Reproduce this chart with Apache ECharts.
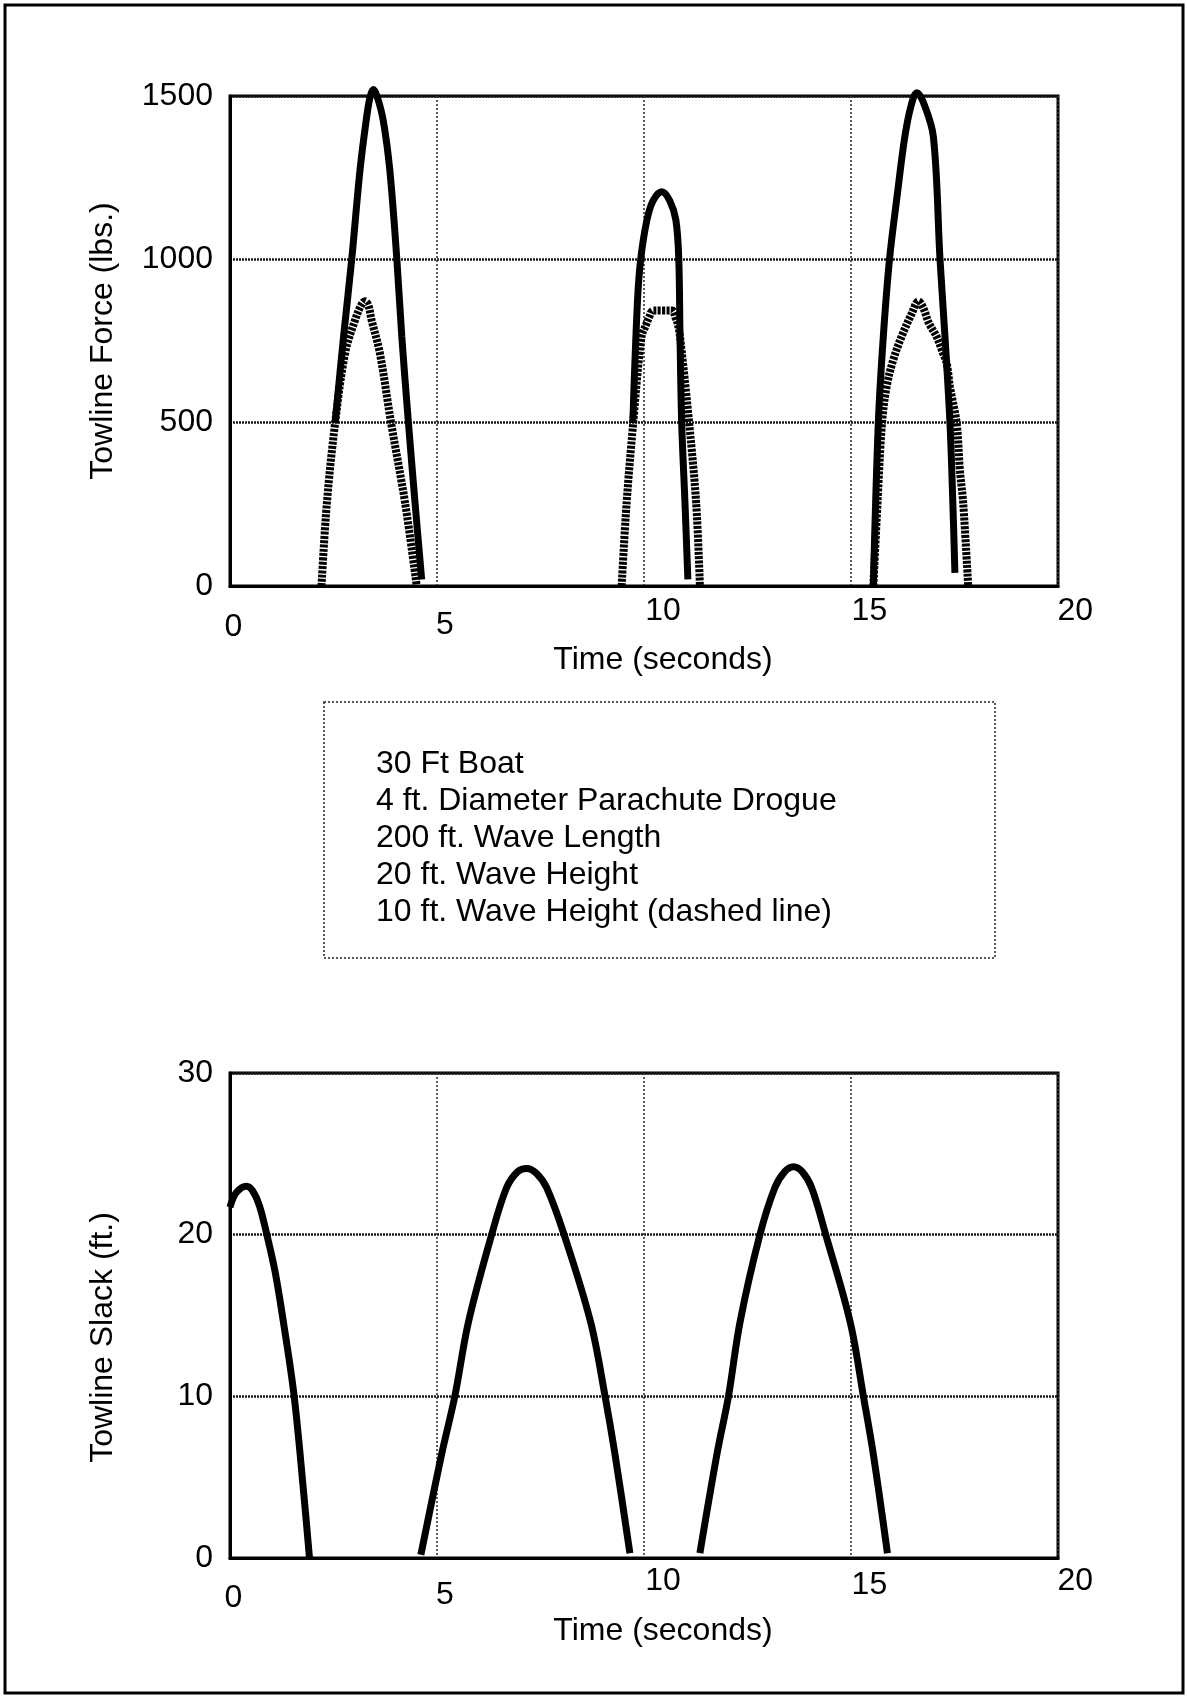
<!DOCTYPE html>
<html><head><meta charset="utf-8">
<script src="https://cdn.jsdelivr.net/npm/echarts@6/dist/echarts.min.js"></script>
<style>html,body{margin:0;padding:0;background:#fff}#c{width:1187px;height:1699px}</style>
</head><body><div id="c"></div>
<script>
// ---- data (time in seconds) ----
const xTicks = [0, 5, 10, 15, 20];
const forceTicks = [0, 500, 1000, 1500];
const slackTicks = [0, 10, 20, 30];

// 20 ft wave height (solid) - towline force, lbs
const force20Time = [2.54, 2.74, 2.94, 3.14, 3.29, 3.38, 3.46, 3.55, 3.70, 3.86, 4.03, 4.15, 4.31, 4.47, 4.63,
  7.0,
  9.73, 9.84, 9.92, 10.07, 10.22, 10.43, 10.62, 10.77, 10.84, 10.87, 10.91, 10.99, 11.06,
  13.0,
  15.54, 15.66, 15.78, 15.93, 16.12, 16.30, 16.45, 16.59, 16.75, 16.99, 17.15, 17.27, 17.39, 17.46, 17.51];
const force20 = [500, 760, 1000, 1273, 1426, 1495, 1520, 1500, 1426, 1273, 1000, 763, 500, 254, 20,
  null,
  500, 866, 1000, 1120, 1180, 1207, 1180, 1120, 1000, 763, 500, 254, 20,
  null,
  0, 500, 763, 1000, 1200, 1375, 1470, 1510, 1480, 1375, 1000, 763, 500, 254, 40];

// 10 ft wave height (dashed) - towline force, lbs
const force10Time = [2.21, 2.34, 2.54, 2.78, 3.02, 3.17, 3.26, 3.34, 3.42, 3.62, 3.89, 4.23, 4.51,
  7.0,
  9.46, 9.58, 9.74, 9.94, 10.05, 10.12, 10.22, 10.68, 10.76, 10.82, 10.87, 11.09, 11.26, 11.35,
  13.0,
  15.54, 15.64, 15.75, 15.86, 16.02, 16.22, 16.47, 16.63, 16.75, 16.88, 17.07, 17.20, 17.31, 17.39, 17.55, 17.63, 17.71, 17.83];
const force10 = [0, 254, 500, 713, 814, 860, 872, 860, 814, 713, 500, 254, 0,
  null,
  0, 254, 500, 763, 800, 822, 843, 843, 822, 800, 763, 500, 254, 0,
  null,
  0, 254, 500, 610, 692, 763, 835, 872, 850, 805, 763, 720, 682, 610, 500, 355, 254, 0];

// towline slack, ft
const slackTime = [0, 0.15, 0.40, 0.55, 0.71, 0.89, 1.09, 1.29, 1.55, 1.77, 1.92,
  3.2,
  4.61, 5.11, 5.43, 5.76, 6.32, 6.68, 6.95, 7.17, 7.40, 7.65, 8.07, 8.71, 9.06, 9.30, 9.66,
  10.5,
  11.35, 11.76, 12.04, 12.32, 12.80, 13.16, 13.40, 13.61, 13.82, 14.05, 14.39, 14.98, 15.30, 15.54, 15.88];
const slack = [21.7, 22.6, 23.0, 22.7, 21.8, 20.0, 17.7, 14.6, 10.0, 4.3, 0,
  null,
  0.2, 6.4, 10.0, 14.6, 20.0, 22.9, 23.9, 24.1, 23.8, 22.9, 20.0, 14.6, 10.0, 6.4, 0.3,
  null,
  0.3, 6.4, 10.0, 14.6, 20.0, 22.9, 23.9, 24.2, 23.9, 22.9, 20.0, 14.6, 10.0, 6.4, 0.3];

const noteLines = ['30 Ft Boat', '4 ft. Diameter Parachute Drogue', '200 ft. Wave Length',
  '20 ft. Wave Height', '10 ft. Wave Height (dashed line)'];

// ---- styling ----
const FONT = "'Liberation Sans', Arial, Helvetica, sans-serif";
const FS = 32;
const INK = '#000';
const pairs = (t, v) => t.map((x, i) => [x, v[i] === null ? '-' : v[i]]);

function xLabelRich(padTops) {
  const shifts = [3.3, 8, 19, 18.4, 17.3];
  const rich = {};
  xTicks.forEach((t, i) => {
    rich['t' + t] = { fontSize: FS, fontFamily: FONT, color: INK, padding: [padTops[i], 0, 0, shifts[i] * 2] };
  });
  return rich;
}

function xAxis(gridIndex, padTops, nameGap) {
  return {
    type: 'value', gridIndex, min: 0, max: 20, interval: 5,
    name: 'Time (seconds)', nameLocation: 'middle', nameGap,
    nameTextStyle: { fontSize: 32, fontFamily: FONT, color: INK, padding: [0, 0, 0, 38] },
    axisLine: { show: true, lineStyle: { color: '#000', width: 3 } },
    axisTick: { show: false },
    axisLabel: { margin: 5, formatter: v => '{t' + v + '|' + v + '}', rich: xLabelRich(padTops) },
    splitLine: { show: true, lineStyle: { color: '#333', width: 1.6, type: [2, 2] } }
  };
}

function yAxis(gridIndex, max, interval, name, namePad) {
  return {
    type: 'value', gridIndex, min: 0, max, interval,
    name, nameLocation: 'middle', nameGap: 111,
    nameTextStyle: { fontSize: 32, fontFamily: FONT, color: INK, padding: namePad },
    axisLine: { show: true, lineStyle: { color: '#000', width: 3 } },
    axisTick: { show: false },
    axisLabel: { margin: 17, fontSize: FS, fontFamily: FONT, color: INK, formatter: v => String(v) },
    splitLine: { show: true, lineStyle: { color: '#1a1a1a', width: 2.5, type: [2, 1] } }
  };
}

const chart = echarts.init(document.getElementById('c'), null, { renderer: 'canvas' });
chart.setOption({
  backgroundColor: '#fff',
  animation: false,
  grid: [
    { left: 230, top: 96, width: 828, height: 490, show: true, borderColor: '#000', borderWidth: 3, containLabel: false },
    { left: 230, top: 1073, width: 828, height: 485, show: true, borderColor: '#000', borderWidth: 3, containLabel: false }
  ],
  xAxis: [xAxis(0, [20.5, 18.5, 4.5, 4.5, 4.5], 54), xAxis(1, [19.5, 16.5, 2.5, 6.5, 2.5], 57)],
  yAxis: [yAxis(0, 1500, 500, 'Towline Force (lbs.)', [0, 0, 0, 0]),
          yAxis(1, 30, 10, 'Towline Slack (ft.)', [0, 44, 0, 0])],
  series: [
    { name: '10 ft. Wave Height', type: 'line', xAxisIndex: 0, yAxisIndex: 0, data: pairs(force10Time, force10),
      showSymbol: false, smooth: 0.35, clip: false, connectNulls: false, z: 3,
      lineStyle: { color: '#000', width: 8, type: [3, 1.3], cap: 'butt' } },
    { name: '20 ft. Wave Height', type: 'line', xAxisIndex: 0, yAxisIndex: 0, data: pairs(force20Time, force20),
      showSymbol: false, smooth: 0.35, clip: false, connectNulls: false, z: 4,
      lineStyle: { color: '#000', width: 7 } },
    { name: 'Towline Slack', type: 'line', xAxisIndex: 1, yAxisIndex: 1, data: pairs(slackTime, slack),
      showSymbol: false, smooth: 0.35, clip: false, connectNulls: false, z: 4,
      lineStyle: { color: '#000', width: 7 } }
  ],
  graphic: [
    { type: 'rect', shape: { x: 5, y: 5, width: 1178, height: 1688 }, silent: true, z: 0,
      style: { fill: 'none', stroke: '#000', lineWidth: 3 } },
    { type: 'rect', shape: { x: 324, y: 702, width: 671, height: 256 }, silent: true,
      style: { fill: 'none', stroke: '#222', lineWidth: 1.5, lineDash: [2, 2] } },
    { type: 'text', x: 376, y: 745.5, silent: true,
      style: { text: noteLines.join('\n'), fontSize: 32, fontFamily: FONT, fill: INK, lineHeight: 37,
               align: 'left', verticalAlign: 'top' } }
  ]
});
</script></body></html>
